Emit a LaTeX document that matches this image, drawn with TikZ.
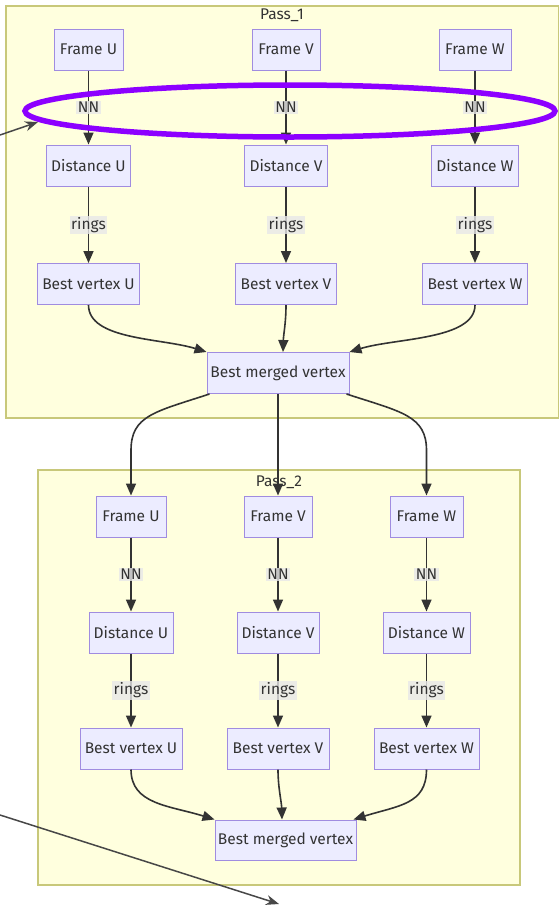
\documentclass[tikz,border=0pt]{standalone}
\usepackage{fontspec}
\setmainfont{Fira Sans}
\usetikzlibrary{arrows.meta,calc}
\definecolor{nodefill}{HTML}{ECECFF}
\definecolor{nodeline}{HTML}{A08CE0}
\definecolor{clfill}{HTML}{FFFFDE}
\definecolor{clline}{HTML}{C8C87A}
\definecolor{edgec}{HTML}{333333}
\definecolor{lblbg}{HTML}{E8E8E8}
\definecolor{annot}{HTML}{474747}
\definecolor{hilite}{RGB}{140,0,255}
\begin{document}
\begin{tikzpicture}[x=1pt,y=-1pt,
  every node/.style={font=\fontsize{15.5}{18}\selectfont, text=edgec},
  box/.style={draw=nodeline, fill=nodefill, line width=1pt, inner sep=0pt, minimum height=41pt},
  cluster/.style={draw=clline, fill=clfill, line width=1.2pt},
  flow/.style={draw=edgec, line width=1.6pt, -{Triangle[length=12pt,width=10pt]}},
  elabel/.style={fill=lblbg, fill opacity=0.8, text opacity=1, inner sep=1.5pt},
  ctitle/.style={inner sep=0pt},
  pointer/.style={draw=annot, line width=1.5pt, -{Stealth[length=13pt,width=10pt]}},
  ring/.style={draw=hilite, line width=5.5pt}
]
\useasboundingbox (0,0) rectangle (559,908);
\fill[white] (0,0) rectangle (559,908);

% clusters
\draw[cluster] (6,6) rectangle (558.5,418);
\node[ctitle] (t1) at (282,15) {Pass\_1};
\draw[cluster] (38,470) rectangle (520,885);
\node[ctitle] (t2) at (279,482) {Pass\_2};

% Pass 1 nodes
\node[box, minimum width=69pt] (FU1) at (88.5,49.5) {Frame U};
\node[box, minimum width=68pt] (FV1) at (286,49.5) {Frame V};
\node[box, minimum width=72pt] (FW1) at (475,49.5) {Frame W};
\node[box, minimum width=84pt] (DU1) at (88.5,165.5) {Distance U};
\node[box, minimum width=83pt] (DV1) at (286,165.5) {Distance V};
\node[box, minimum width=87pt] (DW1) at (475,165.5) {Distance W};
\node[box, minimum width=102pt] (BU1) at (88.5,284) {Best vertex U};
\node[box, minimum width=101pt] (BV1) at (286,284) {Best vertex V};
\node[box, minimum width=105pt] (BW1) at (475,284) {Best vertex W};
\node[box, minimum width=142pt] (M1) at (278,373) {Best merged vertex};

% Pass 2 nodes
\node[box, minimum width=70pt] (FU2) at (131,516.5) {Frame U};
\node[box, minimum width=68pt] (FV2) at (278,516.5) {Frame V};
\node[box, minimum width=73pt] (FW2) at (426.5,516.5) {Frame W};
\node[box, minimum width=84pt] (DU2) at (131,632.5) {Distance U};
\node[box, minimum width=82pt] (DV2) at (278,632.5) {Distance V};
\node[box, minimum width=87pt] (DW2) at (426.5,632.5) {Distance W};
\node[box, minimum width=102pt] (BU2) at (131,748.5) {Best vertex U};
\node[box, minimum width=102pt] (BV2) at (278,748.5) {Best vertex V};
\node[box, minimum width=105pt] (BW2) at (426.5,748.5) {Best vertex W};
\node[box, minimum width=141pt, minimum height=40pt] (M2) at (285.5,840) {Best merged vertex};

% straight edges
\foreach \c in {U,V,W}{
  \draw[flow] (F\c1) -- node[elabel] {NN} (D\c1);
  \draw[flow] (D\c1) -- node[elabel] {rings} (B\c1);
  \draw[flow] (F\c2) -- node[elabel] {NN} (D\c2);
  \draw[flow] (D\c2) -- node[elabel] {rings} (B\c2);
}
% Pass 1 merge edges
\draw[flow] (BU1.south) .. controls +(0,35) and +(-45,-14) .. (M1.north west);
\draw[flow] (BV1.south) .. controls +(0,18) and +(0.5,-18) .. ([xshift=5pt]M1.north);
\draw[flow] (BW1.south) .. controls +(0,35) and +(45,-14) .. (M1.north east);

% between passes
\draw[flow] ([xshift=3pt]M1.south west) .. controls +(-55,18) and +(0,-35) .. ($(FU2.north)+(0,-45)$) -- (FU2.north);
\draw[flow] (M1.south) -- (FV2.north);
\draw[flow] ([xshift=-3pt]M1.south east) .. controls +(55,18) and +(0,-35) .. ($(FW2.north)+(0,-45)$) -- (FW2.north);

% Pass 2 merge edges
\draw[flow] (BU2.south) .. controls +(0,35) and +(-45,-14) .. (M2.north west);
\draw[flow] (BV2.south) .. controls +(0,18) and +(-0.5,-18) .. ([xshift=-3.5pt]M2.north);
\draw[flow] (BW2.south) .. controls +(0,35) and +(45,-14) .. ([xshift=-3pt]M2.north east);

% annotations
\draw[ring] (290,111) ellipse [x radius=265, y radius=26];
\coordinate (p1s) at (0,135);
\coordinate (p1e) at (38,122);
\draw[pointer] (p1s) -- (p1e);
\coordinate (p2s) at (0,815);
\coordinate (p2e) at (279,904);
\draw[pointer] (p2s) -- (p2e);
\end{tikzpicture}
\end{document}
